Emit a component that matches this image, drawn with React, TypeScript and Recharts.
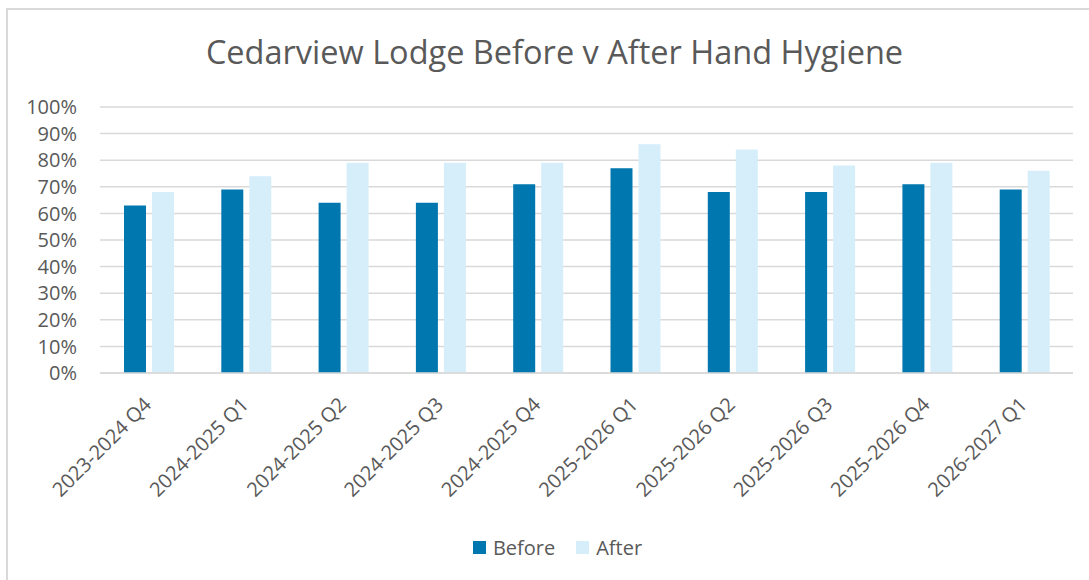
import { BarChart, Bar, XAxis, YAxis, CartesianGrid, Legend } from "recharts";

const quarters = [
  "2023-2024 Q4",
  "2024-2025 Q1",
  "2024-2025 Q2",
  "2024-2025 Q3",
  "2024-2025 Q4",
  "2025-2026 Q1",
  "2025-2026 Q2",
  "2025-2026 Q3",
  "2025-2026 Q4",
  "2026-2027 Q1",
];
const before = [63, 69, 64, 64, 71, 77, 68, 68, 71, 69];
const after = [68, 74, 79, 79, 79, 86, 84, 78, 79, 76];
const yTicks = [0, 10, 20, 30, 40, 50, 60, 70, 80, 90, 100];
const seriesOrder = ["Before", "After"];

const data = quarters.map((q, i) => ({ quarter: q, Before: before[i], After: after[i] }));

const FONT = "'Open Sans', sans-serif";
const TEXT = "#595959";
const GRID = "#d9d9d9";
const W = 1081;
const H = 570;

function QuarterTick({ x, y, payload }: any) {
  return (
    <text
      x={x + 4}
      y={y + 33}
      textAnchor="end"
      transform={`rotate(-45, ${x + 4}, ${y + 33})`}
      fill={TEXT}
      fontSize={20}
      fontFamily={FONT}
    >
      {payload.value}
    </text>
  );
}

function LegendBox({ payload }: any) {
  const items = [...payload].sort(
    (a: any, b: any) => seriesOrder.indexOf(a.value) - seriesOrder.indexOf(b.value)
  );
  return (
    <div style={{ display: "flex", justifyContent: "center", gap: 21, fontFamily: FONT, fontSize: 20, color: TEXT }}>
      {items.map((p: any) => (
        <div key={p.value} style={{ display: "flex", alignItems: "center", gap: 7 }}>
          <span style={{ width: 13, height: 13, background: p.color, display: "inline-block" }} />
          <span>{p.value}</span>
        </div>
      ))}
    </div>
  );
}

export default function App() {
  return (
    <div
      style={{
        position: "absolute",
        left: 6,
        top: 8,
        width: W,
        height: H,
        borderTop: `2px solid ${GRID}`,
        borderLeft: `2px solid ${GRID}`,
        background: "#fff",
      }}
    >
      <div
        style={{
          position: "absolute",
          top: 26,
          left: 0,
          width: W,
          textAlign: "center",
          paddingLeft: 12,
          boxSizing: "border-box",
          fontFamily: FONT,
          fontSize: 32.5,
          lineHeight: 1,
          color: TEXT,
        }}
      >
        Cedarview Lodge Before v After Hand Hygiene
      </div>
      <BarChart
        width={W}
        height={H}
        data={data}
        margin={{ top: 97, right: 16, left: 0, bottom: 47 }}
        barSize={22}
        barGap={6}
      >
        <CartesianGrid vertical={false} stroke={GRID} strokeWidth={1.5} />
        <XAxis
          dataKey="quarter"
          interval={0}
          height={160}
          tickSize={0}
          tickMargin={0}
          axisLine={{ stroke: GRID, strokeWidth: 1.5 }}
          tickLine={false}
          tick={<QuarterTick />}
        />
        <YAxis
          domain={[0, 100]}
          ticks={yTicks}
          interval={0}
          width={92}
          tickSize={0}
          tickMargin={23}
          axisLine={false}
          tickLine={false}
          tickFormatter={(v) => `${v}%`}
          tick={{ fontSize: 20, fill: TEXT, fontFamily: FONT }}
        />
        <Legend
          verticalAlign="middle"
          align="center"
          layout="horizontal"
          wrapperStyle={{ top: 524, left: 18, width: W - 18 }}
          content={<LegendBox />}
        />
        <Bar dataKey="Before" fill="#0077ae" isAnimationActive={false} />
        <Bar dataKey="After" fill="#d5eefa" isAnimationActive={false} />
      </BarChart>
    </div>
  );
}
